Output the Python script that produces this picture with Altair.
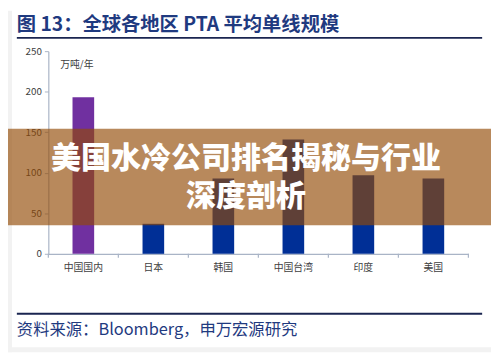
import altair as alt
import pandas as pd

categories = ["中国国内", "日本", "韩国", "中国台湾", "印度", "美国"]
values = [193, 37, 93, 141, 97, 93]
y_ticks = [0, 50, 100, 150, 200, 250]

title_text = "图 13：全球各地区 PTA 平均单线规模"
unit_text = "万吨/年"
source_text = "资料来源：Bloomberg，申万宏源研究"
banner_lines = ["美国水冷公司排名揭秘与行业", "深度剖析"]

df = pd.DataFrame({"region": categories, "value": values})

W, H = 427, 206
FONT = "Noto Sans CJK SC"
AXIS_COL = "#a9b4c6"
NAVY = "#1f3a80"

x_scale = alt.Scale(domain=categories, paddingInner=0, paddingOuter=0)
y_scale = alt.Scale(domain=[0, 250], nice=False)

bars = alt.Chart(df).mark_bar(size=22).encode(
    x=alt.X("region:N", sort=categories, scale=x_scale,
            axis=alt.Axis(title=None, labelAngle=0, ticks=False, labelPadding=9,
                          labelFontSize=10, labelColor="#404040", labelFont=FONT,
                          domainColor=AXIS_COL, domainWidth=1.2)),
    y=alt.Y("value:Q", scale=y_scale,
            axis=alt.Axis(title=None, values=y_ticks, grid=False, tickSize=4,
                          tickColor=AXIS_COL, domainColor=AXIS_COL, domainWidth=1.2,
                          labelFontSize=10, labelColor="#404040", labelFont=FONT,
                          labelPadding=3)),
    color=alt.condition(alt.datum.region == "中国国内", alt.value("#7030a0"), alt.value("#002f96")),
)

tick_rules = alt.Chart(df).mark_rule(color=AXIS_COL, strokeWidth=1.2).encode(
    x=alt.X("region:N", sort=categories, scale=x_scale, bandPosition=0),
    y=alt.value(H), y2=alt.value(H + 4),
)
end_tick = alt.Chart(alt.Data(values=[{}])).mark_rule(color=AXIS_COL, strokeWidth=1.2).encode(
    x=alt.value(W), y=alt.value(H), y2=alt.value(H + 4),
)

one = alt.Data(values=[{}])

strip_left = alt.Chart(one).mark_rect(color="#f2f2f2").encode(
    x=alt.value(-41), x2=alt.value(-37), y=alt.value(-41), y2=alt.value(306))
strip_bottom = alt.Chart(one).mark_rect(color="#f2f2f2").encode(
    x=alt.value(-41), x2=alt.value(450), y=alt.value(301), y2=alt.value(306))

title = alt.Chart(pd.DataFrame({"t": [title_text]})).mark_text(
    align="left", baseline="middle", font=FONT, fontSize=19.6, fontWeight="bold", color=NAVY
).encode(x=alt.value(-32), y=alt.value(-26), text="t:N")

title_line = alt.Chart(one).mark_rule(color="#1a2550", strokeWidth=2).encode(
    x=alt.value(-32), x2=alt.value(441), y=alt.value(-13.5))

unit = alt.Chart(pd.DataFrame({"t": [unit_text]})).mark_text(
    align="left", baseline="middle", font=FONT, fontSize=10, color="#404040"
).encode(x=alt.value(12), y=alt.value(14), text="t:N")

foot_line = alt.Chart(one).mark_rule(color="#1a2550", strokeWidth=2).encode(
    x=alt.value(-32), x2=alt.value(441), y=alt.value(267))

source = alt.Chart(pd.DataFrame({"t": [source_text]})).mark_text(
    align="left", baseline="middle", font=FONT, fontSize=16.6, color=NAVY
).encode(x=alt.value(-32), y=alt.value(284), text="t:N")

banner = alt.Chart(one).mark_rect(color="#924a04", opacity=0.65).encode(
    x=alt.value(-41), x2=alt.value(450), y=alt.value(79), y2=alt.value(177))

banner_text = alt.Chart(pd.DataFrame({"t": ["\n".join(banner_lines)]})).mark_text(
    align="center", baseline="middle", font=FONT, fontSize=30.5, fontWeight=900,
    color="white", lineBreak="\n", lineHeight=38.5
).encode(x=alt.value(201), y=alt.value(109.5), text="t:N")

chart = alt.layer(
    strip_left, strip_bottom, bars, tick_rules, end_tick, title, title_line, unit,
    foot_line, source, banner, banner_text
).properties(
    width=W, height=H,
    padding={"left": 41, "top": 41, "right": 23, "bottom": 100},
    autosize=alt.AutoSizeParams(type="none"),
    background="white",
).configure_view(stroke=None)

chart.save("out.html", embed_options={"renderer": "svg", "actions": False})
